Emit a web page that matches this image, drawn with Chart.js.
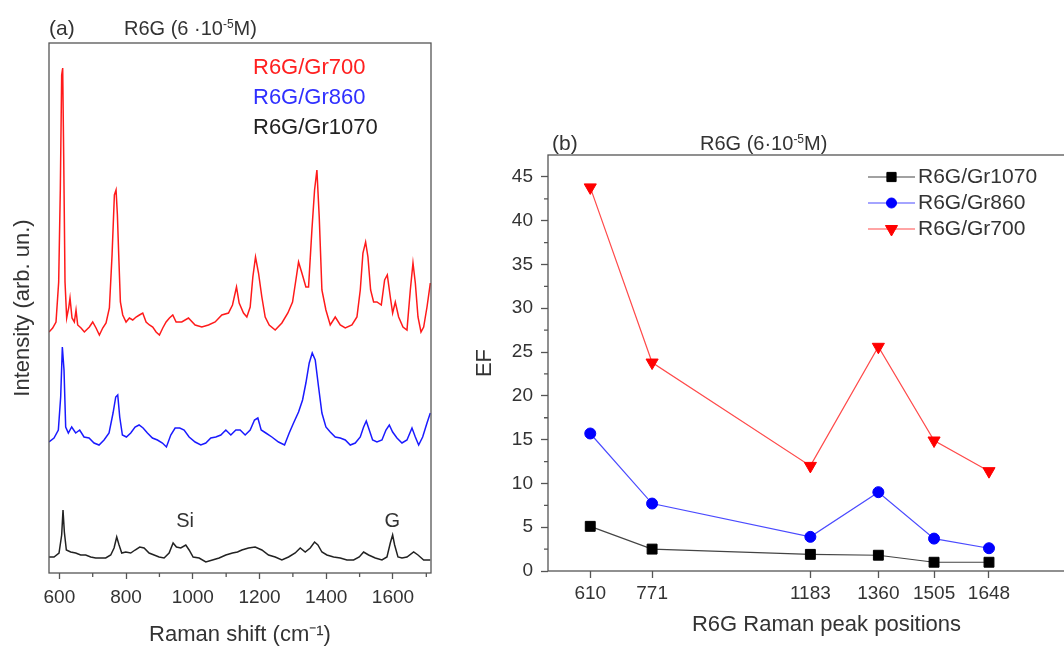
<!DOCTYPE html>
<html>
<head>
<meta charset="utf-8">
<script src="https://cdn.jsdelivr.net/npm/chart.js@4.4.0/dist/chart.umd.min.js"></script>
<style>
  html, body { margin: 0; padding: 0; background: #fff; overflow: hidden; width: 1064px; height: 646px; }
  body { position: relative; font-family: "Liberation Sans", Arial, sans-serif; color: #333; }
  canvas { position: absolute; top: 0; }
  #spectraChart { left: 0; }
  #efChart { left: 460px; }
  .lbl { position: absolute; white-space: nowrap; line-height: 22px; }
  .lbl sup { font-size: 60%; position: relative; top: -0.3em; vertical-align: top; }
</style>
</head>
<body>
<canvas id="spectraChart" width="450" height="646"></canvas>
<canvas id="efChart" width="700" height="646"></canvas>

<div class="lbl" style="left:49px;top:17px;font-size:21px">(a)</div>
<div class="lbl" style="left:124px;top:17px;font-size:20px">R6G (6 ·10<sup>-5</sup>M)</div>
<div class="lbl" style="left:253px;top:56px;font-size:22px;color:#ff2020">R6G/Gr700</div>
<div class="lbl" style="left:253px;top:86px;font-size:22px;color:#3030ff">R6G/Gr860</div>
<div class="lbl" style="left:253px;top:116px;font-size:22px;color:#222">R6G/Gr1070</div>

<div class="lbl" style="left:552px;top:132px;font-size:21px">(b)</div>
<div class="lbl" style="left:700px;top:132px;font-size:20px">R6G (6·10<sup>-5</sup>M)</div>

<script>
// (a) Raman spectra, offset stack (arb. units)
const gr700Shift = [569, 580, 590, 598, 603, 607, 610, 613, 617, 622, 628, 632, 638, 645, 650, 655, 665, 675, 690, 700,
  710, 720, 730, 740, 750, 758, 765, 770, 774, 778, 783, 790, 800, 810, 820, 830, 840, 850, 860, 870,
  880, 890, 900, 910, 920, 930, 940, 950, 967, 987, 1007, 1027, 1047, 1067, 1087, 1107, 1119, 1131, 1139, 1152,
  1162, 1172, 1180, 1188, 1197, 1207, 1217, 1229, 1247, 1267, 1285, 1299, 1309, 1317, 1327, 1339, 1347, 1357, 1365, 1372,
  1379, 1387, 1399, 1412, 1427, 1442, 1457, 1477, 1492, 1502, 1510, 1518, 1525, 1533, 1542, 1552, 1565, 1575, 1583, 1592,
  1599, 1607, 1617, 1630, 1642, 1652, 1660, 1667, 1675, 1684, 1692, 1702, 1712];
const gr700Int = [241, 245, 251, 291, 385, 498, 505, 418, 291, 255, 265, 275, 255, 251, 263, 248, 245, 241, 246, 251,
  245, 238, 245, 250, 265, 318, 378, 383, 358, 318, 271, 258, 251, 255, 253, 256, 258, 260, 251, 248,
  246, 241, 238, 245, 251, 255, 258, 251, 251, 255, 248, 246, 248, 251, 258, 260, 268, 286, 270, 260,
  256, 266, 296, 316, 300, 276, 256, 248, 243, 250, 260, 271, 293, 311, 300, 286, 286, 343, 383, 403,
  356, 283, 263, 248, 256, 248, 245, 248, 256, 283, 320, 331, 316, 283, 271, 271, 268, 293, 298, 276,
  260, 271, 256, 246, 243, 283, 310, 290, 256, 241, 246, 266, 290];

const gr860Shift = [569, 584, 597, 604, 609, 614, 619, 627, 637, 649, 661, 674, 689, 704, 719, 734, 749, 761, 769, 775,
  781, 789, 801, 814, 827, 839, 851, 864, 879, 894, 909, 921, 934, 947, 961, 974, 989, 1007, 1024, 1039,
  1054, 1069, 1084, 1099, 1114, 1129, 1142, 1157, 1172, 1185, 1195, 1205, 1219, 1237, 1257, 1275, 1289, 1302, 1317, 1329,
  1339, 1349, 1358, 1367, 1377, 1387, 1399, 1412, 1427, 1442, 1457, 1472, 1487, 1502, 1512, 1520, 1529, 1539, 1552, 1567,
  1579, 1589, 1599, 1612, 1627, 1642, 1657, 1667, 1677, 1689, 1702, 1712];
const gr860Int = [131, 135, 143, 176, 226, 203, 146, 140, 146, 140, 143, 136, 135, 130, 128, 133, 140, 160, 176, 178,
  156, 138, 136, 140, 146, 148, 145, 140, 135, 133, 130, 126, 138, 145, 145, 143, 136, 131, 128, 130,
  135, 136, 138, 143, 138, 143, 143, 138, 143, 153, 155, 143, 140, 136, 131, 128, 140, 150, 161, 173,
  190, 210, 220, 213, 186, 160, 146, 141, 136, 135, 133, 128, 130, 136, 146, 152, 143, 133, 131, 133,
  143, 148, 141, 135, 130, 133, 145, 136, 128, 136, 150, 160];

const gr1070Shift = [569, 584, 599, 607, 611, 615, 621, 634, 649, 664, 679, 694, 709, 724, 739, 754, 764, 772, 779, 787,
  799, 814, 827, 841, 854, 869, 884, 899, 914, 929, 941, 951, 964, 979, 989, 1001, 1019, 1039, 1059, 1079,
  1099, 1119, 1134, 1147, 1167, 1187, 1207, 1227, 1247, 1267, 1287, 1307, 1322, 1337, 1352, 1365, 1375, 1387, 1402, 1422,
  1442, 1462, 1482, 1499, 1512, 1527, 1547, 1567, 1582, 1592, 1599, 1605, 1615, 1627, 1642, 1662, 1675, 1692, 1712];
const gr1070Int = [16, 16, 20, 38, 63, 41, 23, 21, 20, 18, 18, 16, 15, 15, 15, 18, 25, 36, 28, 20,
  21, 20, 23, 26, 25, 20, 18, 16, 15, 20, 30, 26, 25, 28, 23, 16, 15, 11, 13, 15,
  18, 20, 21, 23, 25, 26, 23, 18, 16, 13, 16, 20, 25, 21, 25, 31, 28, 21, 18, 16,
  15, 13, 13, 16, 21, 18, 15, 13, 16, 30, 38, 28, 16, 15, 16, 21, 18, 13, 13];

const shiftTicks = [600, 800, 1000, 1200, 1400, 1600];
const shiftMinorTicks = [700, 900, 1100, 1300, 1500, 1700];
const peakNotes = ['Si', 'G'];
const peakNoteShift = [977, 1598];
const peakNoteLevel = [52, 52];

// (b) enhancement factor at the R6G peaks
const peakPositions = [610, 771, 1183, 1360, 1505, 1648];
const efGr1070 = [5.1, 2.5, 1.9, 1.8, 1.0, 1.0];
const efGr860 = [15.7, 7.7, 3.9, 9.0, 3.7, 2.6];
const efGr700 = [43.8, 23.8, 12.0, 25.6, 14.9, 11.4];
const efTicks = [0, 5, 10, 15, 20, 25, 30, 35, 40, 45];
const efMinorTicks = [2.5, 7.5, 12.5, 17.5, 22.5, 27.5, 32.5, 37.5, 42.5];

const axisColor = '#555';
const fontFamily = '"Liberation Sans", Arial, sans-serif';
Chart.defaults.font.family = fontFamily;
Chart.defaults.color = '#333';

function toPoints(xs, ys) {
    return xs.map((x, i) => ({ x: x, y: ys[i] }));
}

// frame around the plot area plus the short minor ticks
function frameWithMinorTicks(minorX, minorY) {
    return {
        id: 'frameWithMinorTicks',
        afterDraw(chart) {
            const { ctx, chartArea: a, scales } = chart;
            ctx.save();
            ctx.strokeStyle = axisColor;
            ctx.lineWidth = 1.3;
            ctx.strokeRect(a.left, a.top, a.right - a.left, a.bottom - a.top);
            ctx.beginPath();
            minorX.forEach(v => {
                const px = scales.x.getPixelForValue(v);
                ctx.moveTo(px, a.bottom);
                ctx.lineTo(px, a.bottom + 4);
            });
            minorY.forEach(v => {
                const py = scales.y.getPixelForValue(v);
                ctx.moveTo(a.left, py);
                ctx.lineTo(a.left - 4, py);
            });
            ctx.stroke();
            ctx.restore();
        }
    };
}

// "Si" and "G" labels above the substrate peaks
const peakNotePlugin = {
    id: 'peakNotes',
    afterDatasetsDraw(chart) {
        const { ctx, scales } = chart;
        ctx.save();
        ctx.font = '20px ' + fontFamily;
        ctx.fillStyle = '#333';
        ctx.textAlign = 'center';
        ctx.textBaseline = 'middle';
        peakNotes.forEach((t, i) => {
            ctx.fillText(t, scales.x.getPixelForValue(peakNoteShift[i]), scales.y.getPixelForValue(peakNoteLevel[i]));
        });
        ctx.restore();
    }
};

// legend with line + symbol, drawn in the upper right
const efLegendPlugin = {
    id: 'efLegend',
    afterDraw(chart) {
        const { ctx } = chart;
        ctx.save();
        chart.data.datasets.forEach((ds, k) => {
            const y = 177 + k * 26;
            ctx.strokeStyle = ds.borderColor;
            ctx.lineWidth = 1.2;
            ctx.beginPath();
            ctx.moveTo(408, y);
            ctx.lineTo(455, y);
            ctx.stroke();
            ctx.fillStyle = ds.pointBackgroundColor;
            ctx.strokeStyle = ds.pointBackgroundColor;
            ctx.lineWidth = 1;
            Chart.helpers.drawPoint(ctx, {
                pointStyle: ds.pointStyle,
                rotation: ds.pointRotation || 0,
                radius: ds.legendRadius,
                borderWidth: 1
            }, 431.5, y);
            ctx.fillStyle = '#333';
            ctx.font = '21px ' + fontFamily;
            ctx.textAlign = 'left';
            ctx.textBaseline = 'middle';
            ctx.fillText(ds.label, 458, y);
        });
        ctx.restore();
    }
};

new Chart(document.getElementById('spectraChart'), {
    type: 'line',
    data: {
        datasets: [
            { label: 'R6G/Gr700', data: toPoints(gr700Shift, gr700Int), borderColor: '#ff1a1a' },
            { label: 'R6G/Gr860', data: toPoints(gr860Shift, gr860Int), borderColor: '#1a1aff' },
            { label: 'R6G/Gr1070', data: toPoints(gr1070Shift, gr1070Int), borderColor: '#222' }
        ].map(d => Object.assign(d, { borderWidth: 1.5, pointRadius: 0, tension: 0, fill: false }))
    },
    options: {
        responsive: false,
        animation: false,
        layout: { padding: { top: 43, right: 19, left: 0, bottom: 0 } },
        plugins: { legend: { display: false }, tooltip: { enabled: false } },
        scales: {
            x: {
                type: 'linear',
                min: 569,
                max: 1714,
                afterBuildTicks: s => { s.ticks = shiftTicks.map(v => ({ value: v })); },
                afterFit: s => { s.height = 73; },
                border: { display: false },
                grid: { drawOnChartArea: false, tickLength: 6, tickColor: axisColor, tickWidth: 1.3 },
                ticks: { font: { size: 19 }, padding: 7, maxRotation: 0, callback: v => String(v) },
                title: { display: true, text: 'Raman shift (cm⁻¹)', font: { size: 22, lineHeight: 1 }, padding: 0 }
            },
            y: {
                type: 'linear',
                min: 0,
                max: 530,
                afterFit: s => { s.width = 49; },
                border: { display: false },
                grid: { display: false },
                ticks: { display: false },
                title: { display: true, text: 'Intensity (arb. un.)', font: { size: 22, lineHeight: 1 }, padding: { top: 12, bottom: 0 } }
            }
        }
    },
    plugins: [frameWithMinorTicks(shiftMinorTicks, []), peakNotePlugin]
});

new Chart(document.getElementById('efChart'), {
    type: 'line',
    data: {
        datasets: [
            {
                label: 'R6G/Gr1070', data: toPoints(peakPositions, efGr1070),
                borderColor: '#444', pointBackgroundColor: '#000', pointBorderColor: '#000',
                pointStyle: 'rect', pointRadius: 7, legendRadius: 6.5
            },
            {
                label: 'R6G/Gr860', data: toPoints(peakPositions, efGr860),
                borderColor: '#4a4aff', pointBackgroundColor: '#0000ff', pointBorderColor: '#0000ff',
                pointStyle: 'circle', pointRadius: 5.5, legendRadius: 5
            },
            {
                label: 'R6G/Gr700', data: toPoints(peakPositions, efGr700),
                borderColor: '#ff4a4a', pointBackgroundColor: '#ff0000', pointBorderColor: '#ff0000',
                pointStyle: 'triangle', pointRotation: 180, pointRadius: 7, legendRadius: 7
            }
        ].map(d => Object.assign(d, { borderWidth: 1.2, pointBorderWidth: 1, tension: 0, fill: false }))
    },
    options: {
        responsive: false,
        animation: false,
        layout: { padding: { top: 155, right: 55, left: 0, bottom: 0 } },
        plugins: { legend: { display: false }, tooltip: { enabled: false } },
        scales: {
            x: {
                type: 'linear',
                min: 500,
                max: 1950,
                afterBuildTicks: s => { s.ticks = peakPositions.map(v => ({ value: v })); },
                afterFit: s => { s.height = 75; },
                border: { display: false },
                grid: { drawOnChartArea: false, tickLength: 7, tickColor: axisColor, tickWidth: 1.3 },
                ticks: { font: { size: 19 }, padding: 4, maxRotation: 0, autoSkip: false, callback: v => String(v) },
                title: { display: true, text: 'R6G Raman peak positions', font: { size: 22, lineHeight: 1 }, padding: { top: 0, bottom: 10 } }
            },
            y: {
                type: 'linear',
                min: 0,
                max: 47.5,
                afterBuildTicks: s => { s.ticks = efTicks.map(v => ({ value: v })); },
                afterFit: s => { s.width = 88; },
                border: { display: false },
                grid: { drawOnChartArea: false, tickLength: 7, tickColor: axisColor, tickWidth: 1.3 },
                ticks: { font: { size: 19 }, padding: 8, callback: v => String(v) },
                title: { display: true, text: 'EF', font: { size: 22, lineHeight: 1 }, padding: { top: 14, bottom: 0 } }
            }
        }
    },
    plugins: [frameWithMinorTicks([], efMinorTicks), efLegendPlugin]
});
</script>
</body>
</html>
